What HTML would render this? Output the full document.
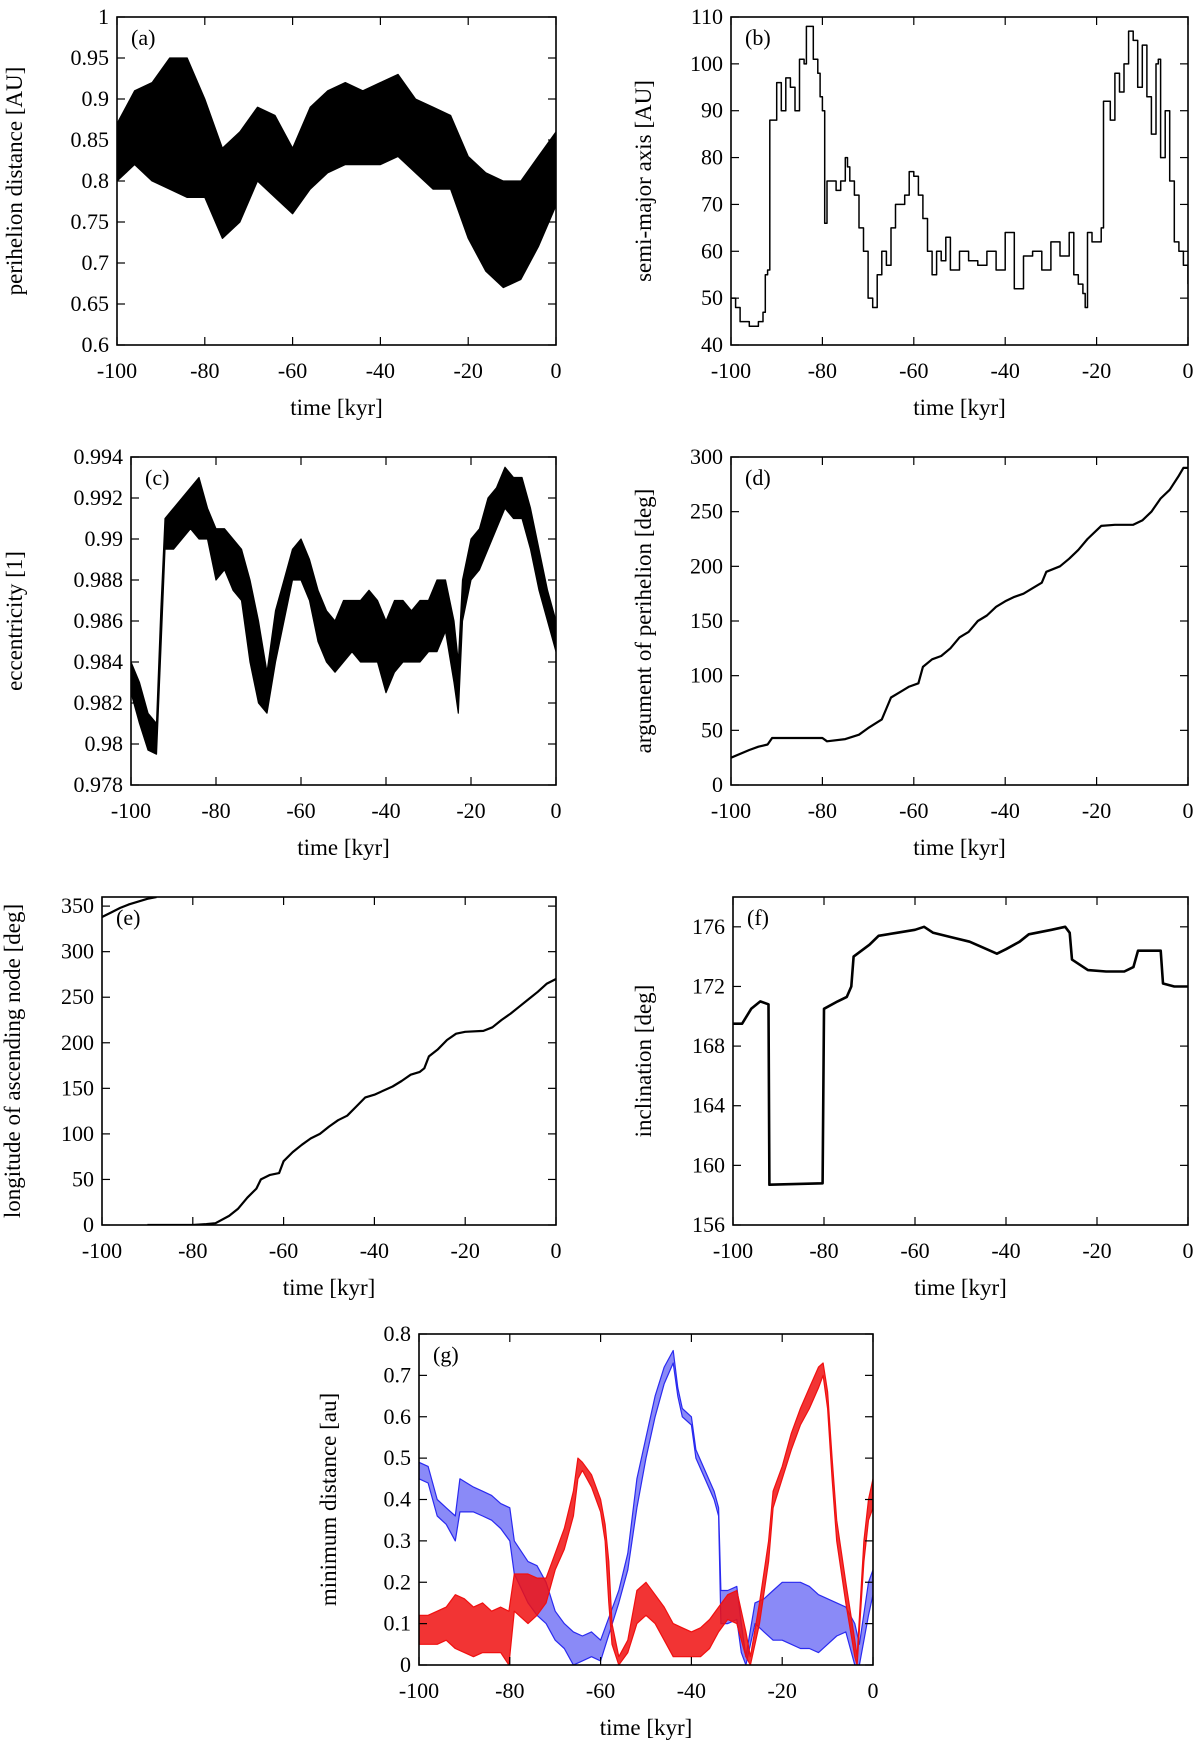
<!DOCTYPE html>
<html><head><meta charset="utf-8"><style>
html,body{margin:0;padding:0;background:#fff;}
svg{display:block;}
text{font-family:"Liberation Serif",serif;fill:#000;}
</style></head><body>
<svg id="fig" width="1200" height="1744" viewBox="0 0 1200 1744" xmlns="http://www.w3.org/2000/svg"></svg>
<script>
// ---- data ----
const xTicks = [-100,-80,-60,-40,-20,0];
// (a) perihelion distance band
const aTimes = [-100,-96,-92,-88,-84,-80,-76,-72,-68,-64,-60,-56,-52,-48,-44,-40,-36,-32,-28,-24,-20,-16,-12,-8,-4,0];
const aLo = [.80,.82,.80,.79,.78,.78,.73,.75,.80,.78,.76,.79,.81,.82,.82,.82,.83,.81,.79,.79,.73,.69,.67,.68,.72,.77];
const aHi = [.87,.91,.92,.95,.95,.90,.84,.86,.89,.88,.84,.89,.91,.92,.91,.92,.93,.90,.89,.88,.83,.81,.80,.80,.83,.86];
const aTicks = [0.6,0.65,0.7,0.75,0.8,0.85,0.9,0.95,1];
// (b) semi-major axis
const bTimes = [-100,-99,-98,-96,-94,-93,-92.5,-92,-91.5,-90,-89,-88,-87,-86,-85,-84,-83.5,-82,-81,-80.5,-80,-79.5,-79,-77,-76,-75,-74.5,-74,-73,-72,-71,-70,-69,-68,-67,-66,-65,-64,-62,-61,-60,-59,-58,-57,-56,-55,-54,-53,-52,-50,-48,-46,-44,-42,-40,-38,-36,-34,-32,-30,-28,-26,-25,-24,-23,-22.5,-22,-21,-19,-18.5,-17,-16,-15,-14,-13,-12,-11,-10,-9,-8,-7,-6.5,-6,-5,-4,-3,-2,-1,0];
const bVals = [50,48,45,44,45,47,55,56,88,96,90,97,95,90,101,100,108,101,98,93,90,66,75,73,75,80,78,75,72,65,60,50,48,55,60,57,65,70,72,77,76,72,67,60,55,60,58,63,56,60,58,57,60,56,64,52,59,60,56,62,59,64,55,53,51,48,64,62,65,92,88,98,94,100,107,105,95,104,93,85,100,101,80,90,75,62,60,57,53];
const bTicks = [40,50,60,70,80,90,100,110];
// (c) eccentricity band
const cTimes = [-100,-98,-96,-94,-93,-92,-90,-88,-86,-84,-82,-80,-78,-76,-74,-72,-70,-68,-66,-64,-62,-60,-58,-56,-54,-52,-50,-48,-46,-44,-42,-40,-38,-36,-34,-32,-30,-28,-26,-24,-23,-22,-20,-18,-16,-14,-12,-10,-8,-6,-4,-2,0];
const cLo = [.9825,.981,.9797,.9795,.9845,.9895,.9895,.9900,.9905,.9900,.9900,.9880,.9885,.9875,.9870,.9840,.9820,.9815,.9840,.9860,.9880,.9880,.9870,.9850,.9840,.9835,.9840,.9845,.9840,.9840,.9840,.9825,.9835,.9840,.9840,.9840,.9845,.9845,.9855,.9830,.9815,.9860,.9880,.9885,.9895,.9905,.9915,.9910,.9910,.9895,.9875,.9860,.9845];
const cHi = [.984,.983,.9815,.981,.9865,.9910,.9915,.9920,.9925,.9930,.9915,.9905,.9905,.9900,.9895,.9880,.9860,.9835,.9865,.9880,.9895,.9900,.9890,.9875,.9865,.9860,.9870,.9870,.9870,.9875,.9870,.9860,.9870,.9870,.9865,.9870,.9870,.9880,.9880,.9860,.9840,.9880,.9900,.9905,.9920,.9925,.9935,.9930,.9930,.9915,.9895,.9875,.9860];
const cTicks = [0.978,0.98,0.982,0.984,0.986,0.988,0.99,0.992,0.994];
// (d) argument of perihelion
const dTimes = [-100,-96,-94,-92,-91,-86,-80,-79,-75,-72,-70,-67,-66,-65,-63,-61,-59,-58,-56,-54,-52,-50,-48,-46,-44,-42,-40,-38,-36,-34,-32,-31,-28,-26,-24,-22,-20,-19,-16,-12,-10,-8,-6,-4,-2,-1,0];
const dVals = [25,32,35,37,43,43,43,40,42,46,52,60,70,80,85,90,93,108,115,118,125,135,140,150,155,163,168,172,175,180,185,195,200,207,215,225,233,237,238,238,242,250,262,270,283,290,290];
const dTicks = [0,50,100,150,200,250,300];
// (e) longitude of ascending node
const eTopTimes = [-100,-98,-96,-94,-92,-90,-88];
const eTopVals = [338,343,348,352,355,358,360];
const eTimes = [-90,-80,-77,-75,-72,-70,-68,-66,-65,-63,-61,-60,-58,-56,-54,-52,-50,-48,-46,-44,-42,-40,-36,-34,-32,-30,-29,-28,-26,-24,-22,-20,-16,-14,-12,-10,-8,-6,-4,-2,0];
const eVals = [0,0,1,2,10,18,30,40,50,55,57,70,80,88,95,100,108,115,120,130,140,143,152,158,165,168,172,185,193,203,210,212,213,217,225,232,240,248,256,265,270];
const eTicks = [0,50,100,150,200,250,300,350];
// (f) inclination
const fTimes = [-100,-98,-96,-94,-92.2,-92,-80.3,-80,-77,-75,-74,-73.5,-70,-68,-64,-60,-58,-56,-52,-48,-45,-42,-40,-37,-35,-30,-27,-26,-25.5,-24,-22,-18,-14,-12,-11,-6,-5.5,-3,0];
const fVals = [169.5,169.5,170.5,171,170.8,158.7,158.8,170.5,171,171.3,172,174,174.8,175.4,175.6,175.8,176,175.6,175.3,175,174.6,174.2,174.5,175,175.5,175.8,176,175.6,173.8,173.5,173.1,173,173,173.3,174.4,174.4,172.2,172,172];
const fTicks = [156,160,164,168,172,176];
// (g) minimum distance, red (solid) and blue (dotted)
const gRedTimes = [-100,-98,-96,-94,-92,-90,-88,-86,-84,-82,-80.2,-79,-76,-74,-72,-70,-68,-66,-65,-64,-62,-60,-59,-58.2,-57.5,-56,-54,-52,-50,-48,-46,-44,-42,-40,-38,-36,-34,-32,-30,-28,-27,-25,-23,-22,-20,-18,-16,-14,-12,-11,-10,-9,-8,-6,-4,-3.5,-2,-1,0];
const gRedLo = [.05,.05,.05,.06,.04,.03,.02,.03,.03,.03,0,.13,.10,.12,.15,.23,.28,.36,.45,.47,.43,.37,.30,.15,.05,0,.03,.10,.12,.10,.06,.02,.02,.02,.02,.04,.08,.11,.10,.02,0,.10,.25,.38,.45,.52,.58,.62,.67,.70,.62,.45,.30,.15,.02,0,.25,.35,.38];
const gRedHi = [.12,.12,.13,.14,.17,.16,.14,.15,.13,.14,.13,.22,.22,.21,.21,.27,.33,.42,.50,.49,.46,.40,.34,.25,.10,.02,.06,.18,.20,.17,.14,.10,.09,.08,.09,.11,.14,.17,.18,.08,.02,.15,.30,.42,.48,.56,.62,.67,.72,.73,.66,.50,.35,.20,.06,.02,.30,.40,.45];
const gBlueTimes = [-100,-98,-96,-94,-92,-91,-88,-86,-84,-82,-80,-79,-76,-74,-72,-70,-68,-66,-64,-62,-60,-58,-56,-54,-52,-50,-48,-46,-44,-43,-42,-40,-39,-37,-35,-34,-33.5,-32,-30,-29,-28,-26,-24,-22,-20,-18,-16,-14,-12,-10,-8,-6,-4,-3,-1,0];
const gBlueLo = [.45,.44,.36,.34,.30,.37,.37,.36,.35,.33,.30,.22,.15,.12,.10,.06,.04,0,.01,.02,.01,.08,.15,.23,.38,.50,.60,.68,.73,.65,.60,.58,.50,.45,.40,.36,.10,.10,.11,.03,0,.10,.08,.06,.06,.05,.04,.04,.03,.05,.07,.08,0,0,.12,.17];
const gBlueHi = [.49,.48,.40,.38,.36,.45,.43,.42,.41,.39,.38,.30,.25,.24,.20,.13,.10,.08,.07,.08,.06,.12,.18,.27,.45,.55,.65,.72,.76,.67,.62,.60,.52,.47,.42,.38,.18,.18,.19,.10,.02,.15,.16,.18,.20,.20,.20,.19,.17,.16,.15,.14,.10,.05,.20,.23];
const gTicks = [0,0.1,0.2,0.3,0.4,0.5,0.6,0.7,0.8];

// ---- drawing ----
const NS = "http://www.w3.org/2000/svg";
const svg = document.getElementById('fig');
function mk(tag, attrs, parent){
  const e = document.createElementNS(NS, tag);
  for (const k in attrs) e.setAttribute(k, attrs[k]);
  (parent||svg).appendChild(e);
  return e;
}
function panel(p){
  const g = mk('g', {});
  
  
  const sx = t => p.L + (t + 100) / 100 * (p.R - p.L);
  const sy = v => p.B - (v - p.ymin) / (p.ymax - p.ymin) * (p.B - p.T);
  // clip
  const cid = 'clip-' + p.name;
  const cp = mk('clipPath', {id: cid}, g);
  mk('rect', {x:p.L, y:p.T, width:p.R-p.L, height:p.B-p.T}, cp);
  const plot = mk('g', {'clip-path':'url(#'+cid+')'}, g);
  
  
  p.draw(plot, sx, sy);
  // frame
  const fr = mk('rect', {x:p.L, y:p.T, width:p.R-p.L, height:p.B-p.T, fill:'none', stroke:'#000', 'stroke-width':1.6}, g);
  
  
  const tl = 8;
  xTicks.forEach(t => {
    const x = sx(t);
    mk('line', {x1:x, y1:p.B, x2:x, y2:p.B-tl, stroke:'#000', 'stroke-width':1.2}, g);
    mk('line', {x1:x, y1:p.T, x2:x, y2:p.T+tl, stroke:'#000', 'stroke-width':1.2}, g);
    const tx = mk('text', {x:x, y:p.B+33, 'font-size':22, 'text-anchor':'middle'}, g);
    tx.textContent = String(t);
    
    
  });
  p.yTicks.forEach(v => {
    const y = sy(v);
    mk('line', {x1:p.L, y1:y, x2:p.L+tl, y2:y, stroke:'#000', 'stroke-width':1.2}, g);
    mk('line', {x1:p.R, y1:y, x2:p.R-tl, y2:y, stroke:'#000', 'stroke-width':1.2}, g);
    const tx = mk('text', {x:p.L-8, y:y+7, 'font-size':22, 'text-anchor':'end'}, g);
    tx.textContent = p.fmt ? p.fmt(v) : String(v);
    
    
  });
  const xt = mk('text', {x:(p.L+p.R)/2, y:p.B+70, 'font-size':23, 'text-anchor':'middle'}, g);
  xt.textContent = 'time [kyr]';
  
  
  const cy = (p.T+p.B)/2;
  const yt = mk('text', {x:p.yx, y:cy, 'font-size':23, 'text-anchor':'middle', transform:'rotate(-90 '+p.yx+' '+cy+')'}, g);
  yt.textContent = p.ytitle;
  
  
  const lb = mk('text', {x:p.L+14, y:p.T+28, 'font-size':22}, g);
  lb.textContent = p.label;
  
  
}
function band(parent, times, lo, hi, sx, sy, color, name, opacity){
  let d = '';
  times.forEach((t,i) => { d += (i?'L':'M') + sx(t).toFixed(1) + ' ' + sy(hi[i]).toFixed(1); });
  for (let i = times.length-1; i >= 0; i--) d += 'L' + sx(times[i]).toFixed(1) + ' ' + sy(lo[i]).toFixed(1);
  d += 'Z';
  const e = mk('path', {d:d, fill:color, 'fill-opacity':opacity||1, stroke:color, 'stroke-width':1.2, 'stroke-linejoin':'round'}, parent);
  
  
}
function line(parent, times, vals, sx, sy, color, name, width, step){
  let d = '';
  times.forEach((t,i) => {
    if (i && step) d += 'L' + sx(t).toFixed(1) + ' ' + sy(vals[i-1]).toFixed(1);
    d += (i?'L':'M') + sx(t).toFixed(1) + ' ' + sy(vals[i]).toFixed(1);
  });
  const e = mk('path', {d:d, fill:'none', stroke:color, 'stroke-width':width||1.4, 'stroke-linejoin':'round'}, parent);
  
  
}
const fmtStr = v => String(v);

panel({name:'panel-a', L:117, R:556, T:17, B:345, ymin:0.6, ymax:1, yTicks:aTicks, yx:22,
  ytitle:'perihelion distance [AU]', label:'(a)',
  draw:(pl,sx,sy)=>band(pl,aTimes,aLo,aHi,sx,sy,'#000','perihelion-series')});
panel({name:'panel-b', L:731, R:1188, T:17, B:345, ymin:40, ymax:110, yTicks:bTicks, yx:651,
  ytitle:'semi-major axis [AU]', label:'(b)',
  draw:(pl,sx,sy)=>line(pl,bTimes,bVals,sx,sy,'#000','semi-major-axis-series',1.5,true)});
panel({name:'panel-c', L:131, R:556, T:457, B:785, ymin:0.978, ymax:0.994, yTicks:cTicks, yx:22,
  ytitle:'eccentricity [1]', label:'(c)',
  draw:(pl,sx,sy)=>band(pl,cTimes,cLo,cHi,sx,sy,'#000','eccentricity-series')});
panel({name:'panel-d', L:731, R:1188, T:457, B:785, ymin:0, ymax:300, yTicks:dTicks, yx:651,
  ytitle:'argument of perihelion [deg]', label:'(d)',
  draw:(pl,sx,sy)=>line(pl,dTimes,dVals,sx,sy,'#000','argument-of-perihelion-series',2.2)});
panel({name:'panel-e', L:102, R:556, T:897, B:1225, ymin:0, ymax:360, yTicks:eTicks, yx:20,
  ytitle:'longitude of ascending node [deg]', label:'(e)',
  draw:(pl,sx,sy)=>{line(pl,eTopTimes,eTopVals,sx,sy,'#000','node-longitude-series-wrap',2.2);
                    line(pl,eTimes,eVals,sx,sy,'#000','node-longitude-series',2.2);}});
panel({name:'panel-f', L:733, R:1188, T:897, B:1225, ymin:156, ymax:178, yTicks:fTicks, yx:651,
  ytitle:'inclination [deg]', label:'(f)',
  draw:(pl,sx,sy)=>line(pl,fTimes,fVals,sx,sy,'#000','inclination-series',2.6)});
panel({name:'panel-g', L:419, R:873, T:1334, B:1665, ymin:0, ymax:0.8, yTicks:gTicks, yx:336,
  ytitle:'minimum distance [au]', label:'(g)',
  draw:(pl,sx,sy)=>{band(pl,gBlueTimes,gBlueLo,gBlueHi,sx,sy,'#2a2af0','min-distance-blue-series',0.55);
                    band(pl,gRedTimes,gRedLo,gRedHi,sx,sy,'#f01010','min-distance-red-series',0.85);}});
</script>
</body></html>
